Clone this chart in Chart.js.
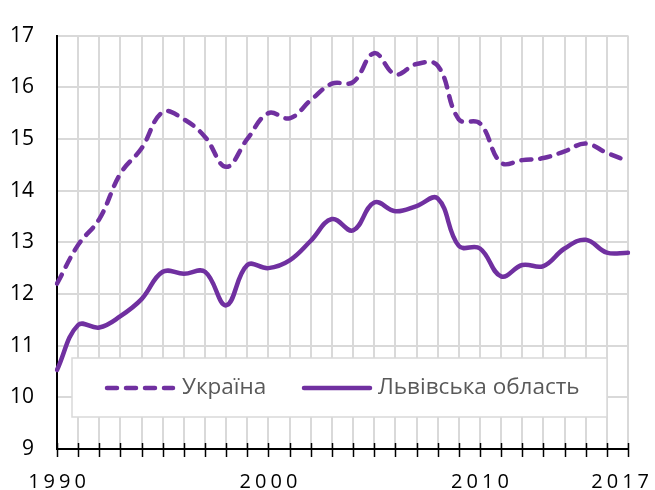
<!DOCTYPE html>
<html>
<head>
<meta charset="utf-8">
<script src="https://cdn.jsdelivr.net/npm/chart.js@4.4.1/dist/chart.umd.min.js"></script>
<style>
  html, body { margin: 0; padding: 0; background: #fff; }
  #wrap { width: 655px; height: 490px; }
</style>
</head>
<body>
<div id="wrap"><canvas id="chart" width="655" height="490"></canvas></div>
<script>
// data
const years = ['1990', '1991', '1992', '1993', '1994', '1995', '1996', '1997', '1998', '1999',
               '2000', '2001', '2002', '2003', '2004', '2005', '2006', '2007', '2008', '2009',
               '2010', '2011', '2012', '2013', '2014', '2015', '2016', '2017'];
const ukraine = [12.2, 12.95, 13.45, 14.33, 14.82, 15.52, 15.38, 15.04, 14.46, 15.0,
                 15.5, 15.4, 15.75, 16.07, 16.1, 16.66, 16.25, 16.45, 16.42, 15.38,
                 15.3, 14.54, 14.59, 14.63, 14.76, 14.91, 14.73, 14.57];
const lviv = [10.53, 11.4, 11.35, 11.57, 11.9, 12.43, 12.39, 12.43, 11.78, 12.56,
              12.5, 12.65, 13.03, 13.45, 13.23, 13.77, 13.6, 13.7, 13.85, 12.93,
              12.88, 12.34, 12.56, 12.54, 12.88, 13.05, 12.8, 12.8];
const seriesNames = ['Україна', 'Львівська область'];
const xTickLabels = ['1990', '2000', '2010', '2017'];

const purple = '#7030a0';
const gridGray = '#d9d9d9';
const fontFamily = '"Open Sans", "Noto Sans", sans-serif';

// x labels are letter-spaced, the tick marks cross the axis, legend sits inside the plot
const decorPlugin = {
    id: 'decor',
    afterDraw(chart) {
        const ctx = chart.ctx;
        const x = chart.scales.x;
        const area = chart.chartArea;

        ctx.save();
        ctx.strokeStyle = '#000';
        ctx.lineWidth = 1.5;
        years.forEach((y, i) => {
            const px = Math.round(x.getPixelForValue(i)) + 0.5;
            ctx.beginPath();
            ctx.moveTo(px, area.bottom - 6);
            ctx.lineTo(px, area.bottom + 8);
            ctx.stroke();
        });

        ctx.fillStyle = '#000';
        ctx.font = '20px ' + fontFamily;
        ctx.letterSpacing = '4px';
        ctx.textAlign = 'center';
        ctx.textBaseline = 'alphabetic';
        xTickLabels.forEach(lbl => {
            let px = x.getPixelForValue(years.indexOf(lbl)) + 2;
            const w = ctx.measureText(lbl).width;
            if (px + w / 2 > chart.width - 2) px = chart.width - 2 - w / 2;
            ctx.fillText(lbl, px, 488);
        });
        ctx.restore();

        // legend
        const box = { left: 72, top: 358, right: 607, bottom: 417 };
        ctx.save();
        ctx.fillStyle = '#fff';
        ctx.fillRect(box.left, box.top, box.right - box.left, box.bottom - box.top);
        ctx.strokeStyle = '#d9d9d9';
        ctx.lineWidth = 1.5;
        ctx.strokeRect(box.left, box.top, box.right - box.left, box.bottom - box.top);

        const items = [
            { x0: 107, x1: 173, tx: 182 },
            { x0: 304, x1: 370, tx: 378 }
        ];
        const ly = 388;
        chart.data.datasets.forEach((ds, i) => {
            const it = items[i];
            ctx.strokeStyle = ds.borderColor;
            ctx.lineWidth = ds.borderWidth;
            ctx.lineCap = 'round';
            ctx.setLineDash(ds.borderDash || []);
            ctx.beginPath();
            ctx.moveTo(it.x0, ly);
            ctx.lineTo(it.x1, ly);
            ctx.stroke();
            ctx.setLineDash([]);
            ctx.fillStyle = '#595959';
            ctx.font = '22.5px ' + fontFamily;
            ctx.textAlign = 'left';
            ctx.textBaseline = 'middle';
            ctx.fillText(ds.label, it.tx, ly);
        });
        ctx.restore();
    }
};

const ctx = document.getElementById('chart').getContext('2d');
const chart = new Chart(ctx, {
    type: 'line',
    data: {
        labels: years,
        datasets: [{
            label: seriesNames[0],
            data: ukraine,
            borderColor: purple,
            borderWidth: 4.5,
            borderDash: [10, 9],
            borderCapStyle: 'round',
            pointRadius: 0,
            tension: 0.4,
            fill: false
        }, {
            label: seriesNames[1],
            data: lviv,
            borderColor: purple,
            borderWidth: 4.5,
            borderCapStyle: 'round',
            pointRadius: 0,
            tension: 0.4,
            fill: false
        }]
    },
    options: {
        responsive: false,
        animation: false,
        layout: {
            padding: { top: 20, right: 27, left: 0, bottom: 0 }
        },
        plugins: {
            legend: { display: false },
            tooltip: { enabled: false }
        },
        scales: {
            x: {
                offset: false,
                afterFit: s => { s.height = 41; },
                grid: {
                    color: gridGray,
                    lineWidth: 2,
                    drawTicks: false
                },
                border: { color: '#000', width: 2 },
                ticks: { display: false, autoSkip: false }
            },
            y: {
                min: 9,
                max: 17,
                afterFit: s => { s.width = 57; },
                grid: {
                    color: gridGray,
                    lineWidth: 2,
                    drawTicks: false
                },
                border: {
                    color: '#000',
                    width: 2,
                    dash: c => (c.tick && c.tick.value % 1 !== 0) ? [5, 4] : []
                },
                ticks: {
                    stepSize: 0.5,
                    padding: 23,
                    color: '#000',
                    font: { family: fontFamily, size: 21 },
                    callback: v => (v % 1 === 0 ? String(v) : '')
                }
            }
        }
    },
    plugins: [decorPlugin]
});
</script>
</body>
</html>
